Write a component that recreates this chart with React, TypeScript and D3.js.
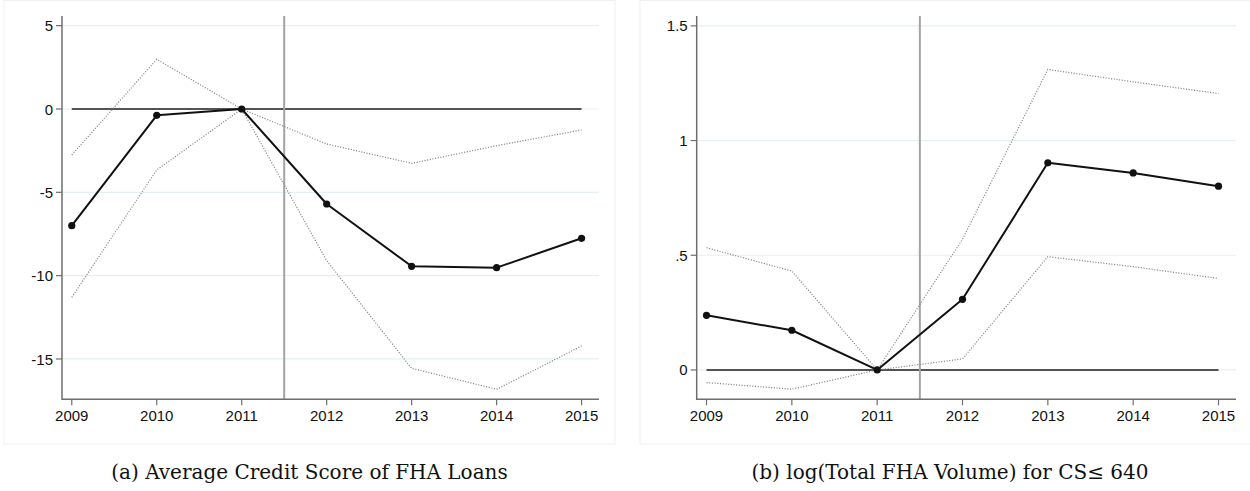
import React from "react";
import * as d3 from "d3";

// Event-study years
const years = [2009, 2010, 2011, 2012, 2013, 2014, 2015];

// Panel (a): average credit score of FHA loans
const creditEstimate = [-7.0, -0.38, 0, -5.7, -9.44, -9.52, -7.76];
const creditUpper = [-2.76, 2.98, 0, -2.1, -3.26, -2.2, -1.26];
const creditLower = [-11.3, -3.66, 0, -9.1, -15.56, -16.82, -14.22];
const creditTicks = [5, 0, -5, -10, -15];
const creditTickLabels = ["5", "0", "-5", "-10", "-15"];

// Panel (b): log(total FHA volume) for CS <= 640
const volumeEstimate = [0.238, 0.173, 0, 0.308, 0.903, 0.859, 0.801];
const volumeUpper = [0.533, 0.431, 0, 0.57, 1.31, 1.256, 1.205];
const volumeLower = [-0.055, -0.084, 0, 0.048, 0.494, 0.45, 0.399];
const volumeTicks = [1.5, 1, 0.5, 0];
const volumeTickLabels = ["1.5", "1", ".5", "0"];

const eventYear = 2011.5;

type PanelProps = {
  frame: [number, number, number, number];
  xRange: [number, number];
  yDomain: [number, number];
  est: number[];
  upper: number[];
  lower: number[];
  ticks: number[];
  tickLabels: string[];
  caption: string;
};

const axisTop = 16;
const axisBottom = 399.3;
const xDomain: [number, number] = [2008.885, 2015.205];

function Panel(p: PanelProps) {
  const x = d3.scaleLinear().domain(xDomain).range(p.xRange);
  const y = d3.scaleLinear().domain(p.yDomain).range([axisBottom, axisTop]);
  const line = d3
    .line<number>()
    .x((_, i) => x(years[i]))
    .y((d) => y(d));
  const [fx, fy, fw, fh] = p.frame;
  const x0 = p.xRange[0];
  const x1 = p.xRange[1];
  const tickFont = "Liberation Sans, Arial, Helvetica, sans-serif";
  return (
    <g>
      <rect x={fx} y={fy} width={fw} height={fh} fill="#fff" stroke="#eef0f0" strokeWidth={1} />
      {/* horizontal grid */}
      {p.ticks.map((t) => (
        <line key={"g" + t} x1={x0} x2={x1} y1={y(t)} y2={y(t)} stroke="#e6eff1" strokeWidth={1.2} />
      ))}
      {/* zero reference line */}
      <line x1={x(years[0])} x2={x(years[years.length - 1])} y1={y(0)} y2={y(0)} stroke="#1e1e1e" strokeWidth={1.5} />
      {/* treatment date */}
      <line x1={x(eventYear)} x2={x(eventYear)} y1={axisTop} y2={axisBottom} stroke="#a3a3a3" strokeWidth={2} />
      {/* confidence bands */}
      <path d={line(p.upper) || ""} fill="none" stroke="#858585" strokeWidth={1.2} strokeDasharray="1.1 1.6" />
      <path d={line(p.lower) || ""} fill="none" stroke="#858585" strokeWidth={1.2} strokeDasharray="1.1 1.6" />
      {/* point estimates */}
      <path d={line(p.est) || ""} fill="none" stroke="#111" strokeWidth={2} strokeLinejoin="round" />
      {p.est.map((v, i) => (
        <circle key={"c" + i} cx={x(years[i])} cy={y(v)} r={3.6} fill="#111" />
      ))}
      {/* axes */}
      <line x1={x0} x2={x0} y1={axisTop} y2={axisBottom + 0.75} stroke="#6e6e6e" strokeWidth={1.5} />
      <line x1={x0} x2={x1} y1={axisBottom} y2={axisBottom} stroke="#6e6e6e" strokeWidth={1.5} />
      {p.ticks.map((t, i) => (
        <g key={"yt" + t}>
          <line x1={x0 - 6} x2={x0} y1={y(t)} y2={y(t)} stroke="#6e6e6e" strokeWidth={1.2} />
          <text x={x0 - 9} y={y(t)} dy="0.37em" textAnchor="end" fontFamily={tickFont} fontSize={15} fill="#111">
            {p.tickLabels[i]}
          </text>
        </g>
      ))}
      {years.map((yr) => (
        <g key={"xt" + yr}>
          <line x1={x(yr)} x2={x(yr)} y1={axisBottom} y2={axisBottom + 6} stroke="#6e6e6e" strokeWidth={1.2} />
          <text x={x(yr)} y={421} textAnchor="middle" fontFamily={tickFont} fontSize={15} fill="#111">
            {yr}
          </text>
        </g>
      ))}
      <text
        x={fx + fw / 2}
        y={479}
        textAnchor="middle"
        fontFamily="DejaVu Serif, Liberation Serif, serif"
        fontSize={20}
        fill="#111"
      >
        {p.caption}
      </text>
    </g>
  );
}

export default function App() {
  return (
    <svg
      width={1250}
      height={491}
      style={{ position: "absolute", left: 0, top: 0, background: "#fff" }}
    >
      <rect width={1250} height={491} fill="#fff" />
      <Panel
        frame={[4, 0.5, 611, 443.5]}
        xRange={[62, 599]}
        yDomain={[-17.42, 5.58]}
        est={creditEstimate}
        upper={creditUpper}
        lower={creditLower}
        ticks={creditTicks}
        tickLabels={creditTickLabels}
        caption="(a) Average Credit Score of FHA Loans"
      />
      <Panel
        frame={[640, 0.5, 620, 443.5]}
        xRange={[696.7, 1236]}
        yDomain={[-0.128, 1.543]}
        est={volumeEstimate}
        upper={volumeUpper}
        lower={volumeLower}
        ticks={volumeTicks}
        tickLabels={volumeTickLabels}
        caption="(b) log(Total FHA Volume) for CS≤ 640"
      />
    </svg>
  );
}
